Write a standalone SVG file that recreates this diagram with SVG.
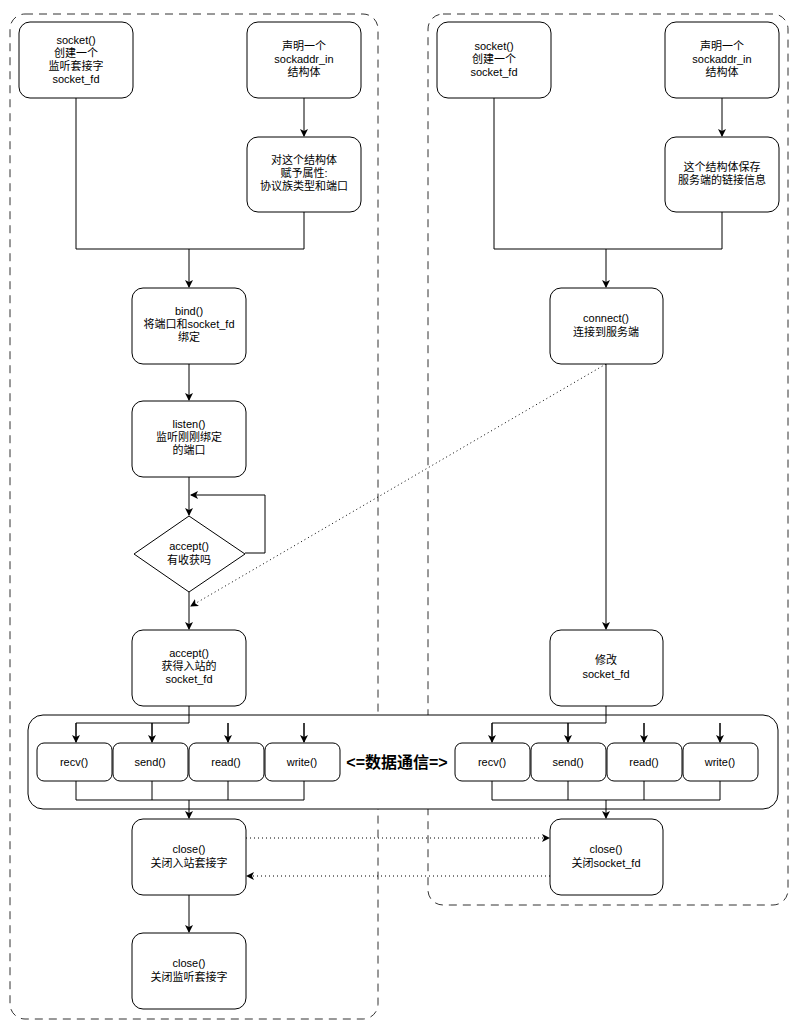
<svg xmlns="http://www.w3.org/2000/svg" width="800" height="1029" viewBox="0 0 800 1029">
<defs>
<marker id="a" markerWidth="8" markerHeight="8" refX="7" refY="4" orient="auto" markerUnits="userSpaceOnUse"><path d="M0,0 L8,4 L0,8 L2,4 Z" fill="#000"/></marker>
<style>
.n{fill:#fff;stroke:#000;stroke-width:1}
.c{fill:none;stroke:#000;stroke-width:1}
.d{fill:none;stroke:#000;stroke-width:1;stroke-dasharray:1 3}
.t{font-family:"Liberation Sans","Noto Sans CJK SC",sans-serif;font-size:11px;text-anchor:middle}
.g{fill:none;stroke:#333;stroke-width:1;stroke-dasharray:8 6}
</style>
</defs>
<rect width="800" height="1029" fill="#fff"/>
<rect class="g" x="10" y="14" width="368" height="1005" rx="15"/>
<rect class="g" x="428" y="14" width="360" height="891" rx="15"/>
<rect class="n" x="28" y="715" width="750" height="94" rx="15"/>
<g id="connectors">
<path class="c" d="M76,98V249H304V212 M189,249V287" marker-end="url(#a)"/>
<path class="c" d="M304,98V136" marker-end="url(#a)"/>
<path class="c" d="M189,364V400" marker-end="url(#a)"/>
<path class="c" d="M189,477V515" marker-end="url(#a)"/>
<path class="c" d="M245,553H265V495H191" marker-end="url(#a)"/>
<path class="c" d="M189,592V629" marker-end="url(#a)"/>
<path class="c" d="M189,706V723H76V742 M152,723V742 M228,723V742 M304,723V742 M189,723"/>
<path class="c" d="M76,723V742" marker-end="url(#a)"/><path class="c" d="M152,723V742" marker-end="url(#a)"/><path class="c" d="M228,723V742" marker-end="url(#a)"/><path class="c" d="M304,723V742" marker-end="url(#a)"/>
<path class="c" d="M76,781V800H304V781 M152,781V800 M228,781V800 M189,800V818" marker-end="url(#a)"/>
<path class="c" d="M189,895V932" marker-end="url(#a)"/>
<path class="c" d="M494,98V249H606 M722,212V249H606V287" marker-end="url(#a)"/>
<path class="c" d="M722,98V136" marker-end="url(#a)"/>
<path class="c" d="M606,364V629" marker-end="url(#a)"/>
<path class="c" d="M606,706V723H492V742 M568,723V742 M644,723V742 M720,723V742"/>
<path class="c" d="M492,723V742" marker-end="url(#a)"/><path class="c" d="M568,723V742" marker-end="url(#a)"/><path class="c" d="M644,723V742" marker-end="url(#a)"/><path class="c" d="M720,723V742" marker-end="url(#a)"/>
<path class="c" d="M492,781V800H720V781 M568,781V800 M644,781V800 M606,800V818" marker-end="url(#a)"/>
<path class="d" d="M606,364L191,606" marker-end="url(#a)"/>
<path class="d" d="M246,838H549" marker-end="url(#a)"/>
<path class="d" d="M550,876H247" marker-end="url(#a)"/>
</g>
<g id="l-socket"><rect class="n" x="19" y="22" width="114" height="76" rx="11"/><text class="t" x="76" y="44">socket()</text><text class="t" x="76" y="57">创建一个</text><text class="t" x="76" y="70">监听套接字</text><text class="t" x="76" y="83">socket_fd</text></g>
<g id="l-decl"><rect class="n" x="247" y="22" width="114" height="76" rx="11"/><text class="t" x="304" y="50">声明一个</text><text class="t" x="304" y="63">sockaddr_in</text><text class="t" x="304" y="76">结构体</text></g>
<g id="l-assign"><rect class="n" x="247" y="137" width="114" height="75" rx="11"/><text class="t" x="304" y="164">对这个结构体</text><text class="t" x="304" y="177">赋予属性:</text><text class="t" x="304" y="190">协议族类型和端口</text></g>
<g id="bind"><rect class="n" x="132" y="288" width="114" height="76" rx="11"/><text class="t" x="189" y="315">bind()</text><text class="t" x="189" y="328">将端口和socket_fd</text><text class="t" x="189" y="341">绑定</text></g>
<g id="listen"><rect class="n" x="132" y="401" width="114" height="76" rx="11"/><text class="t" x="189" y="428">listen()</text><text class="t" x="189" y="441">监听刚刚绑定</text><text class="t" x="189" y="454">的端口</text></g>
<g id="diamond"><path class="n" d="M189,516L245,554L189,592L134,554Z"/><text class="t" x="189" y="550">accept()</text><text class="t" x="189" y="564">有收获吗</text></g>
<g id="accept"><rect class="n" x="132" y="630" width="114" height="76" rx="11"/><text class="t" x="189" y="657">accept()</text><text class="t" x="189" y="670">获得入站的</text><text class="t" x="189" y="683">socket_fd</text></g>
<g id="l-recv"><rect class="n" x="37" y="743" width="75" height="38" rx="7"/><text class="t" x="74" y="766">recv()</text></g>
<g id="l-send"><rect class="n" x="113" y="743" width="75" height="38" rx="7"/><text class="t" x="150" y="766">send()</text></g>
<g id="l-read"><rect class="n" x="189" y="743" width="75" height="38" rx="7"/><text class="t" x="226" y="766">read()</text></g>
<g id="l-write"><rect class="n" x="265" y="743" width="75" height="38" rx="7"/><text class="t" x="302" y="766">write()</text></g>
<text x="397" y="768" style="font-family:'Liberation Sans','Noto Sans CJK SC',sans-serif;font-size:16px;font-weight:bold;text-anchor:middle">&lt;=数据通信=&gt;</text>
<g id="r-recv"><rect class="n" x="455" y="743" width="75" height="38" rx="7"/><text class="t" x="492" y="766">recv()</text></g>
<g id="r-send"><rect class="n" x="531" y="743" width="75" height="38" rx="7"/><text class="t" x="568" y="766">send()</text></g>
<g id="r-read"><rect class="n" x="607" y="743" width="75" height="38" rx="7"/><text class="t" x="644" y="766">read()</text></g>
<g id="r-write"><rect class="n" x="683" y="743" width="75" height="38" rx="7"/><text class="t" x="720" y="766">write()</text></g>
<g id="l-close"><rect class="n" x="132" y="819" width="114" height="76" rx="11"/><text class="t" x="189" y="853">close()</text><text class="t" x="189" y="867">关闭入站套接字</text></g>
<g id="l-close2"><rect class="n" x="132" y="933" width="114" height="76" rx="11"/><text class="t" x="189" y="967">close()</text><text class="t" x="189" y="981">关闭监听套接字</text></g>
<g id="r-socket"><rect class="n" x="437" y="22" width="114" height="76" rx="11"/><text class="t" x="494" y="50">socket()</text><text class="t" x="494" y="63">创建一个</text><text class="t" x="494" y="76">socket_fd</text></g>
<g id="r-decl"><rect class="n" x="665" y="22" width="114" height="76" rx="11"/><text class="t" x="722" y="50">声明一个</text><text class="t" x="722" y="63">sockaddr_in</text><text class="t" x="722" y="76">结构体</text></g>
<g id="r-info"><rect class="n" x="665" y="137" width="114" height="75" rx="11"/><text class="t" x="722" y="171">这个结构体保存</text><text class="t" x="722" y="184">服务端的链接信息</text></g>
<g id="connect"><rect class="n" x="550" y="288" width="113" height="76" rx="11"/><text class="t" x="606" y="322">connect()</text><text class="t" x="606" y="336">连接到服务端</text></g>
<g id="modify"><rect class="n" x="550" y="630" width="113" height="76" rx="11"/><text class="t" x="606" y="664">修改</text><text class="t" x="606" y="678">socket_fd</text></g>
<g id="r-close"><rect class="n" x="550" y="819" width="113" height="76" rx="11"/><text class="t" x="606" y="853">close()</text><text class="t" x="606" y="867">关闭socket_fd</text></g>
</svg>
